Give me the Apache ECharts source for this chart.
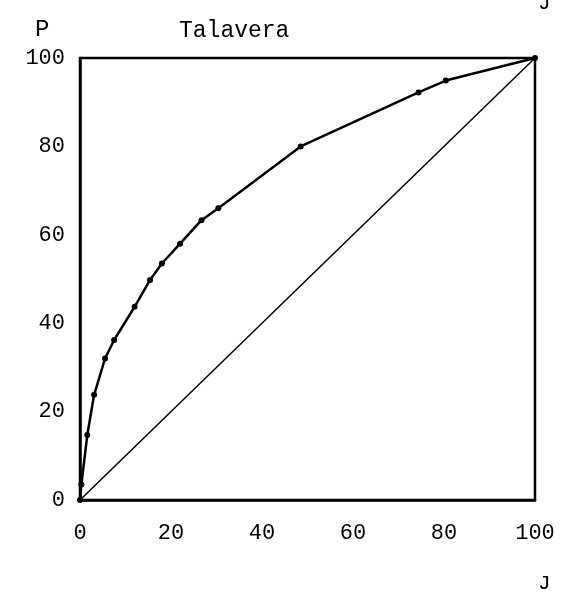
<!DOCTYPE html>
<html>
<head>
<meta charset="utf-8">
<script src="https://cdn.jsdelivr.net/npm/echarts@6/dist/echarts.min.js"></script>
<style>html,body{margin:0;padding:0;background:#fff}#c{width:565px;height:595px}</style>
</head>
<body>
<div id="c"></div>
<script>
const titleText = "Talavera";
const xName = "J";
const yName = "P";
const xTicks = [0, 20, 40, 60, 80, 100];
const yTicks = [0, 20, 40, 60, 80, 100];
const curveJ = [0, 0.3, 1.6, 3.1, 5.5, 7.5, 12.0, 15.4, 18.0, 22.0, 26.7, 30.4, 48.5, 74.4, 80.4, 100];
const curveP = [0, 3.5, 14.7, 23.8, 32.0, 36.2, 43.7, 49.8, 53.5, 58.0, 63.3, 66.0, 80.0, 92.2, 94.9, 100];
const diagJ = [0, 100];
const diagP = [0, 100];

const font = "'Liberation Mono', 'DejaVu Sans Mono', monospace";
const chart = echarts.init(document.getElementById('c'), null, {renderer: 'canvas'});
chart.setOption({
  animation: false,
  backgroundColor: '#fff',
  title: [
    {text: titleText, left: 174, top: 14, textStyle: {fontFamily: font, fontSize: 23, fontWeight: 'normal', color: '#000'}},
    {text: yName, left: 30, top: 13, textStyle: {fontFamily: font, fontSize: 24, fontWeight: 'normal', color: '#000'}},
    {text: xName, left: 533, top: 568, textStyle: {fontFamily: font, fontSize: 21, fontWeight: 'normal', color: '#000'}},
    {text: xName, left: 533, top: -12, textStyle: {fontFamily: font, fontSize: 21, fontWeight: 'normal', color: '#000'}}
  ],
  grid: {left: 80, right: 30, top: 58, bottom: 95, show: true, borderColor: '#000', borderWidth: 2.5, backgroundColor: 'transparent'},
  xAxis: {
    type: 'value', min: 0, max: 100, interval: 20,
    axisLine: {show: true, lineStyle: {color: '#000', width: 2.5}},
    axisTick: {show: false}, splitLine: {show: false},
    axisLabel: {margin: 22, fontFamily: font, fontSize: 22, color: '#000',
      formatter: v => xTicks.includes(v) ? String(v) : ''}
  },
  yAxis: {
    type: 'value', min: 0, max: 100, interval: 20,
    axisLine: {show: true, lineStyle: {color: '#000', width: 2.5}},
    axisTick: {show: false}, splitLine: {show: false},
    axisLabel: {margin: 15, fontFamily: font, fontSize: 22, color: '#000',
      formatter: v => yTicks.includes(v) ? String(v) : ''}
  },
  series: [
    {type: 'line', data: diagJ.map((x, i) => [x, diagP[i]]), showSymbol: false, symbol: 'none',
     lineStyle: {color: '#000', width: 1.5}},
    {type: 'line', data: curveJ.map((x, i) => [x, curveP[i]]), symbol: 'circle', symbolSize: 6,
     itemStyle: {color: '#000'}, lineStyle: {color: '#000', width: 2.5}}
  ]
});
</script>
</body>
</html>
